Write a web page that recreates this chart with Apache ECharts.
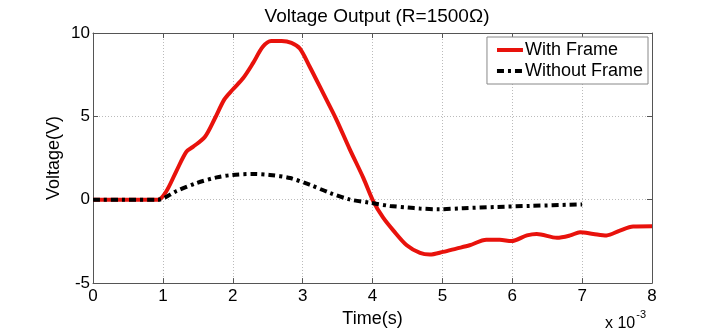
<!DOCTYPE html>
<html>
<head>
<meta charset="utf-8">
<script src="https://cdn.jsdelivr.net/npm/echarts@6/dist/echarts.min.js"></script>
<style>html,body{margin:0;padding:0;background:#fff}#c{width:720px;height:333px}</style>
</head>
<body>
<div id="c"></div>
<script>
// Time in units of 1e-3 s
var withFrameT = [0, 0.93, 1.05, 1.19, 1.335, 1.43, 1.6, 1.74, 1.88, 2.0, 2.15, 2.29, 2.43, 2.55, 2.70, 2.84, 2.96, 3.10, 3.29, 3.48, 3.67, 3.87, 4.01, 4.15, 4.30, 4.49, 4.68, 4.82, 5.01, 5.20, 5.39, 5.63, 5.82, 5.99, 6.21, 6.35, 6.64, 6.83, 6.97, 7.16, 7.35, 7.54, 7.73, 8.0];
var withFrameV = [0, 0, 0.51, 1.69, 2.87, 3.17, 3.76, 4.84, 6.02, 6.61, 7.3, 8.19, 9.17, 9.52, 9.52, 9.41, 9.07, 7.99, 6.42, 4.84, 3.07, 1.30, -0.08, -1.06, -1.85, -2.73, -3.19, -3.29, -3.13, -2.93, -2.73, -2.40, -2.40, -2.48, -2.14, -2.05, -2.28, -2.14, -1.95, -2.05, -2.14, -1.85, -1.61, -1.59];
var withoutT = [0, 0.93, 1.19, 1.48, 1.77, 2.0, 2.29, 2.53, 2.82, 3.10, 3.39, 3.67, 3.96, 4.25, 4.51, 4.68, 4.94, 5.30, 5.78, 6.25, 7.0];
var withoutV = [0, 0, 0.51, 1.0, 1.34, 1.49, 1.55, 1.49, 1.30, 0.90, 0.41, 0.02, -0.18, -0.37, -0.47, -0.53, -0.57, -0.51, -0.43, -0.37, -0.28];
var xTicks = [0, 1, 2, 3, 4, 5, 6, 7, 8];
var yTicks = [-5, 0, 5, 10];
var titleText = 'Voltage Output (R=1500\u03A9)';
var seriesNames = ['With Frame', 'Without Frame'];

function pairs(t, v) { return t.map(function (x, i) { return [x, v[i]]; }); }

var FONT = '"Liberation Sans", Arial, sans-serif';
var chart = echarts.init(document.getElementById('c'), null, { renderer: 'canvas' });
var axisLineStyle = { color: '#555', width: 1 };
chart.setOption({
  animation: false,
  backgroundColor: '#fff',
  textStyle: { fontFamily: FONT },
  title: {
    text: titleText, left: 372, top: 2, textAlign: 'center',
    textStyle: { fontFamily: FONT, fontSize: 19, fontWeight: 'normal', color: '#000' }
  },
  legend: {
    right: 72, top: 37, orient: 'vertical', itemGap: 3, itemWidth: 26, itemHeight: 14,
    backgroundColor: '#fff', borderColor: '#888', borderWidth: 1, padding: [4, 5, 4, 8],
    itemStyle: { opacity: 0 },
    lineStyle: { width: 4 },
    textStyle: { fontFamily: FONT, fontSize: 18, color: '#000', padding: [0, 0, 0, -3] },
    data: seriesNames
  },
  grid: { left: 93, right: 68, top: 33, bottom: 46, containLabel: false },
  xAxis: [{
    type: 'value', min: xTicks[0], max: xTicks[xTicks.length - 1], interval: 1,
    name: 'Time(s)', nameLocation: 'middle', nameGap: 26,
    nameTextStyle: { fontFamily: FONT, fontSize: 18, color: '#000' },
    axisLine: { show: true, onZero: false, lineStyle: axisLineStyle },
    axisTick: { show: true, inside: true, length: 5, lineStyle: axisLineStyle },
    axisLabel: { fontFamily: FONT, fontSize: 17, color: '#000', margin: 5 },
    splitLine: { show: true, lineStyle: { color: '#bbb', type: [1, 2], width: 1 } }
  }, {
    type: 'value', position: 'top', min: xTicks[0], max: xTicks[xTicks.length - 1], interval: 1,
    axisLine: { show: true, onZero: false, lineStyle: axisLineStyle },
    axisTick: { show: true, inside: true, length: 5, lineStyle: axisLineStyle },
    axisLabel: { show: false }, splitLine: { show: false }
  }],
  yAxis: [{
    type: 'value', min: yTicks[0], max: yTicks[yTicks.length - 1], interval: 5,
    name: 'Voltage(V)', nameLocation: 'middle', nameGap: 30, nameMoveOverlap: false,
    nameTextStyle: { fontFamily: FONT, fontSize: 18, color: '#000' },
    axisLine: { show: true, onZero: false, lineStyle: axisLineStyle },
    axisTick: { show: true, inside: true, length: 5, lineStyle: axisLineStyle },
    axisLabel: { fontFamily: FONT, fontSize: 17, color: '#000', margin: 3 },
    splitLine: { show: true, lineStyle: { color: '#bbb', type: [1, 2], width: 1 } }
  }, {
    type: 'value', position: 'right', min: yTicks[0], max: yTicks[yTicks.length - 1], interval: 5,
    axisLine: { show: true, onZero: false, lineStyle: axisLineStyle },
    axisTick: { show: true, inside: true, length: 5, lineStyle: axisLineStyle },
    axisLabel: { show: false }, splitLine: { show: false }
  }],
  graphic: [{
    type: 'text', left: 605, top: 309,
    style: {
      text: '{a|x 10}{b|-3}',
      rich: {
        a: { fontFamily: FONT, fontSize: 16, color: '#000', padding: [7, 0, 0, 0] },
        b: { fontFamily: FONT, fontSize: 11, color: '#000', verticalAlign: 'top', padding: [0, 0, 10, 1] }
      }
    }
  }],
  series: [{
    name: seriesNames[0], type: 'line', smooth: 0.3, showSymbol: false, symbol: 'none',
    data: pairs(withFrameT, withFrameV),
    lineStyle: { color: '#e8120c', width: 4 }, itemStyle: { color: '#e8120c' }
  }, {
    name: seriesNames[1], type: 'line', smooth: 0.3, showSymbol: false, symbol: 'none',
    data: pairs(withoutT, withoutV),
    lineStyle: { color: '#000', width: 4, type: [7, 4, 3, 4] }, itemStyle: { color: '#000' }
  }]
});
</script>
</body>
</html>
